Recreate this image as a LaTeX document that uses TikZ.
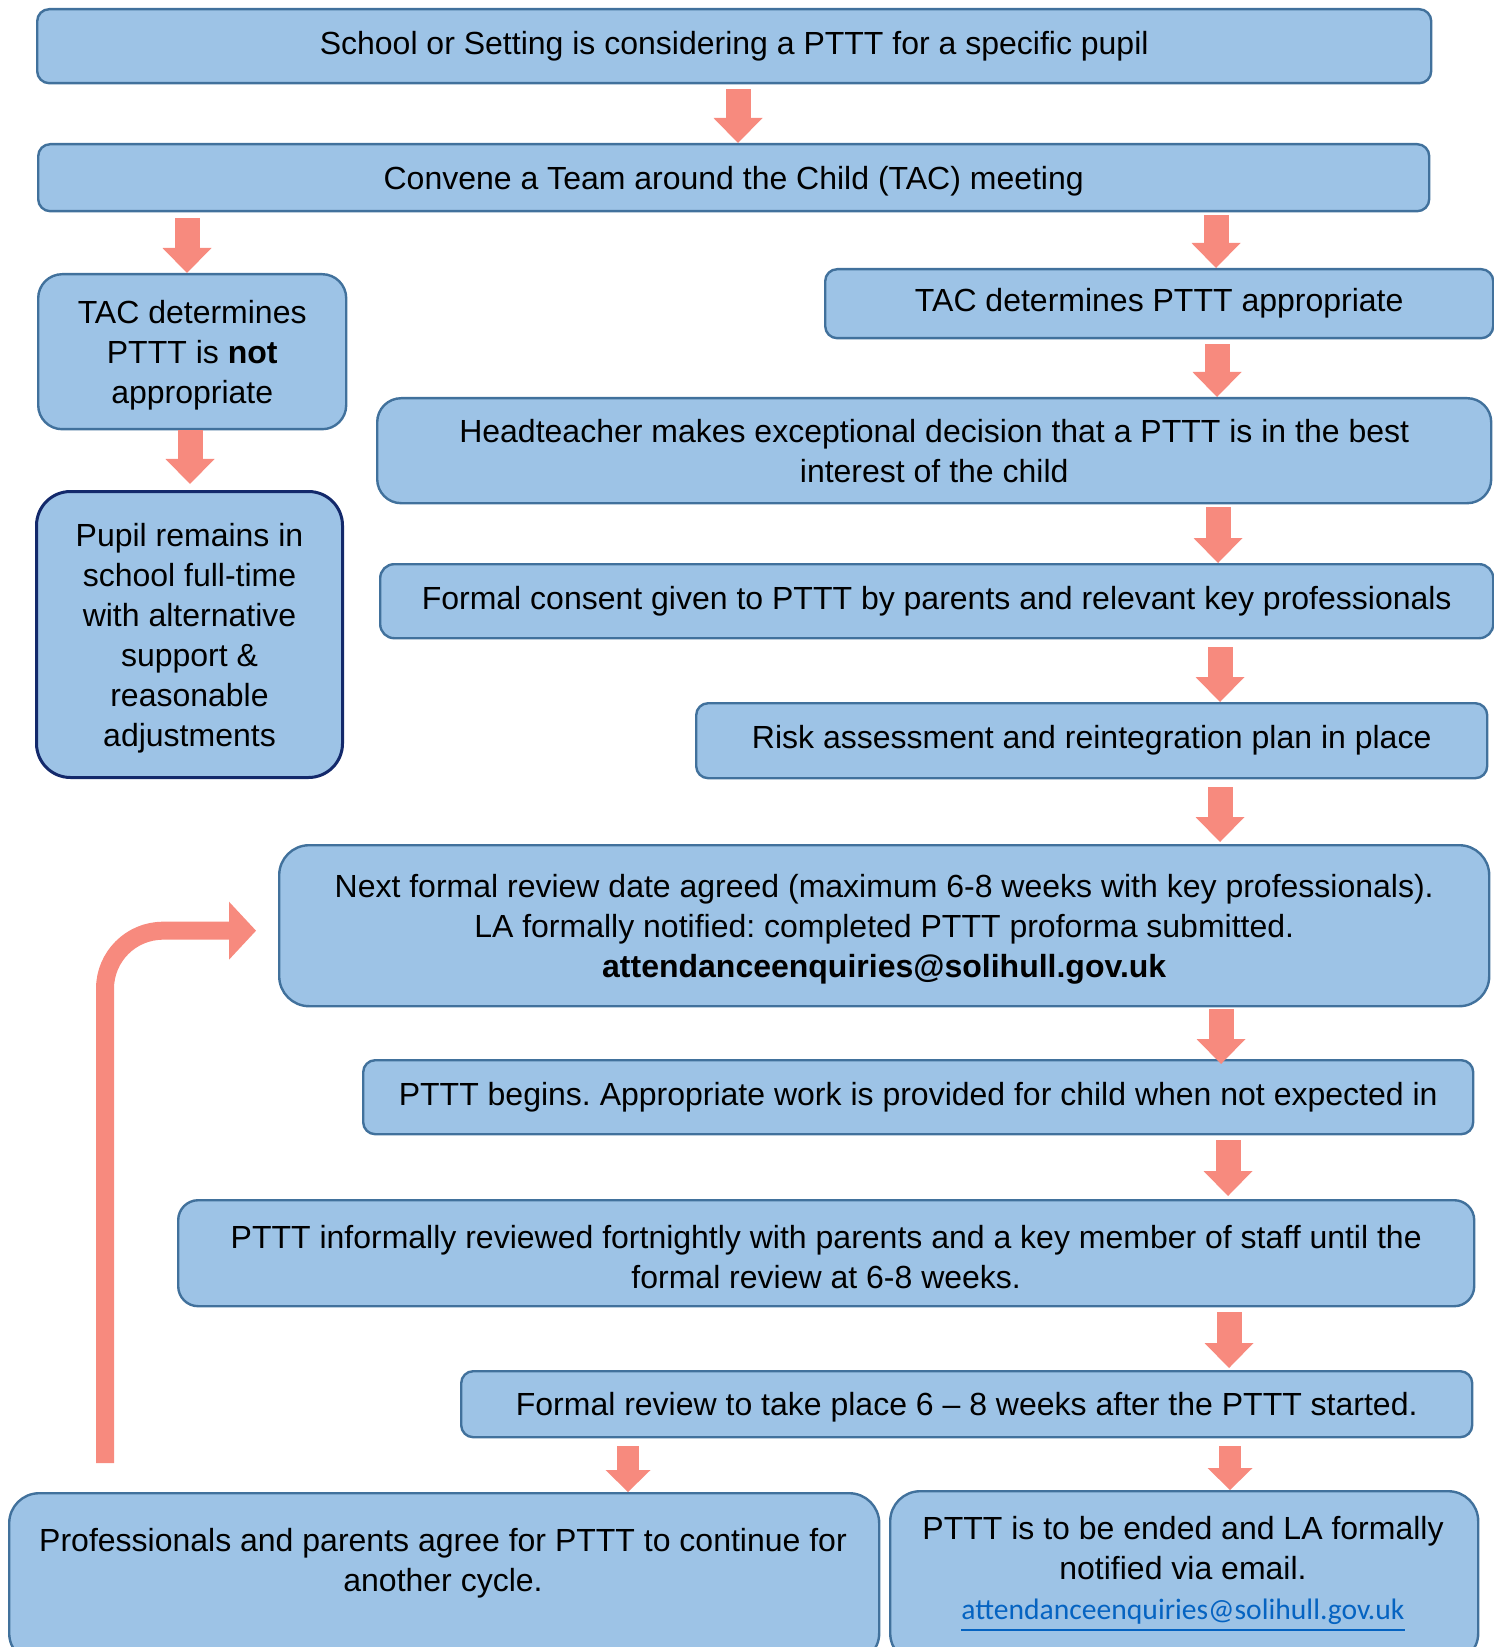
\documentclass[tikz,border=0pt]{standalone}
\usepackage{fontspec}
\setmainfont{Liberation Sans}
\newfontfamily\linkfont{Carlito}
\frenchspacing
\usetikzlibrary{arrows.meta, calc}
\definecolor{BoxBlue}{HTML}{9DC3E6}
\definecolor{BoxEdge}{HTML}{41719C}
\definecolor{PupilEdge}{HTML}{13296B}
\definecolor{ArrowRed}{HTML}{F78A7E}
\definecolor{LinkBlue}{HTML}{0563C1}
\newcommand{\capstrut}{\rule{0pt}{7.5pt}}
\tikzset{
    stepbox/.style={
        rectangle,
        rounded corners=3pt,
        draw=BoxEdge,
        fill=BoxBlue,
        align=center,
        anchor=north west,
        inner sep=0pt,
        font=\fontsize{8pt}{10pt}\selectfont,
        line width=0.6pt
    },
    boxtext/.style={
        align=center,
        inner sep=0pt,
        font=\fontsize{8pt}{10pt}\selectfont
    },
    fatarrow/.style={
        draw=ArrowRed,
        line width=6.25pt,
        -{Triangle[width=12.25pt, length=6.25pt, line width=0pt]}
    },
    thinarrow/.style={
        draw=ArrowRed,
        line width=5.5pt,
        -{Triangle[width=11.25pt, length=5.5pt, line width=0pt]}
    },
    looparrow/.style={
        draw=ArrowRed,
        line width=4.5pt,
        rounded corners=14.5pt,
        -{Triangle[width=14.5pt, length=6.75pt, line width=0pt]}
    }
}

\begin{document}
\begin{tikzpicture}[x=0.25pt, y=-0.25pt]
    \useasboundingbox (0,0) rectangle (1494,1647);
    \clip (0,0) rectangle (1494,1647);

    % Boxes
    \node[stepbox, minimum width=348.5pt, minimum height=18.5pt] (start) at (36,8)
        {School or Setting is considering a PTTT for a specific pupil};
    \node[stepbox, minimum width=347.75pt, minimum height=16.75pt] (convene) at (37,143)
        {\capstrut Convene a Team around the Child (TAC) meeting};

    \node[stepbox, rounded corners=6pt, minimum width=77pt, minimum height=38.75pt] (tacno) at (37,273)
        {\capstrut TAC determines\\PTTT is \textbf{not}\\appropriate};
    \node[stepbox, rounded corners=8.5pt, draw=PupilEdge, line width=0.75pt,
        minimum width=76.5pt, minimum height=71.5pt] (pupil) at (35,490)
        {\capstrut Pupil remains in\\school full-time\\with alternative\\support \&\\reasonable\\adjustments};

    \node[stepbox, minimum width=167pt, minimum height=17.25pt] (tacyes) at (824,268)
        {TAC determines PTTT appropriate};
    \node[stepbox, rounded corners=6pt, minimum width=278.5pt, minimum height=26.25pt] (head) at (376,397)
        {Headteacher makes exceptional decision that a PTTT is in the best\\interest of the child};
    \node[stepbox, rounded corners=3.5pt, minimum width=278.25pt, minimum height=18.5pt] (consent) at (379,563)
        {Formal consent given to PTTT by parents and relevant key professionals};
    \node[stepbox, minimum width=197.75pt, minimum height=18.75pt] (risk) at (695,702)
        {Risk assessment and reintegration plan in place};
    \node[stepbox, rounded corners=7.5pt, minimum width=302.5pt, minimum height=40.25pt] (next) at (278,844)
        {\capstrut Next formal review date agreed (maximum 6-8 weeks with key professionals).\\
         LA formally notified: completed PTTT proforma submitted.\\
         \textbf{attendanceenquiries@solihull.gov.uk}};
    \node[stepbox, minimum width=277.5pt, minimum height=18.5pt] (begins) at (362,1059)
        {PTTT begins. Appropriate work is provided for child when not expected in};
    \node[stepbox, rounded corners=5pt, minimum width=324pt, minimum height=26.5pt] (informal) at (177,1199)
        {\capstrut PTTT informally reviewed fortnightly with parents and a key member of staff until the\\formal review at 6-8 weeks.};
    \node[stepbox, minimum width=252.75pt, minimum height=16.5pt] (review) at (460,1370)
        {\capstrut Formal review to take place 6 – 8 weeks after the PTTT started.};

    \node[stepbox, rounded corners=7.5pt, minimum width=217.5pt, minimum height=42.5pt] (prof) at (8,1492) {};
    \node[boxtext] (proftext) at (443,1563)
        {Professionals and parents agree for PTTT to continue for\\another cycle.};
    \node[stepbox, rounded corners=7.5pt, minimum width=147pt, minimum height=43pt] (ended) at (889,1490) {};
    \node[boxtext] (endedtext) at (1183,1574)
        {PTTT is to be ended and LA formally\\notified via email.\\
         {\linkfont\fontsize{7.4pt}{10pt}\selectfont\color{LinkBlue}\underline{attendanceenquiries@solihull.gov.uk}}};

    \coordinate (loopfoot) at (105,1463);

    % Arrows
    \draw[fatarrow] ($(start.south -| 738,0)+(0,5)$) -- (convene.north -| 738,0);
    \draw[fatarrow] ($(convene.south -| 187,0)+(0,6)$) -- (tacno.north -| 187,0);
    \draw[fatarrow] ($(convene.south -| 1216,0)+(0,3)$) -- (tacyes.north -| 1216,0);
    \draw[fatarrow] (tacno.south -| 190,0) -- ($(pupil.north -| 190,0)+(0,-6)$);
    \draw[fatarrow] ($(tacyes.south -| 1217,0)+(0,5)$) -- (head.north -| 1217,0);
    \draw[fatarrow] ($(head.south -| 1218,0)+(0,3)$) -- (consent.north -| 1218,0);
    \draw[fatarrow] ($(consent.south -| 1220,0)+(0,8)$) -- (risk.north -| 1220,0);
    \draw[fatarrow] ($(risk.south -| 1220,0)+(0,8)$) -- ($(next.north -| 1220,0)+(0,-2)$);
    \draw[fatarrow] ($(next.south -| 1221,0)+(0,2)$) -- ($(begins.north -| 1221,0)+(0,5)$);
    \draw[fatarrow] ($(begins.south -| 1228,0)+(0,5)$) -- ($(informal.north -| 1228,0)+(0,-3)$);
    \draw[fatarrow] ($(informal.south -| 1229,0)+(0,5)$) -- ($(review.north -| 1229,0)+(0,-2)$);
    \draw[thinarrow] ($(review.south -| 628,0)+(0,8)$) -- (prof.north -| 628,0);
    \draw[thinarrow] ($(review.south -| 1230,0)+(0,8)$) -- (ended.north -| 1230,0);

    \draw[looparrow] (loopfoot) |- ($(next.west)+(-22,5)$);

\end{tikzpicture}
\end{document}
